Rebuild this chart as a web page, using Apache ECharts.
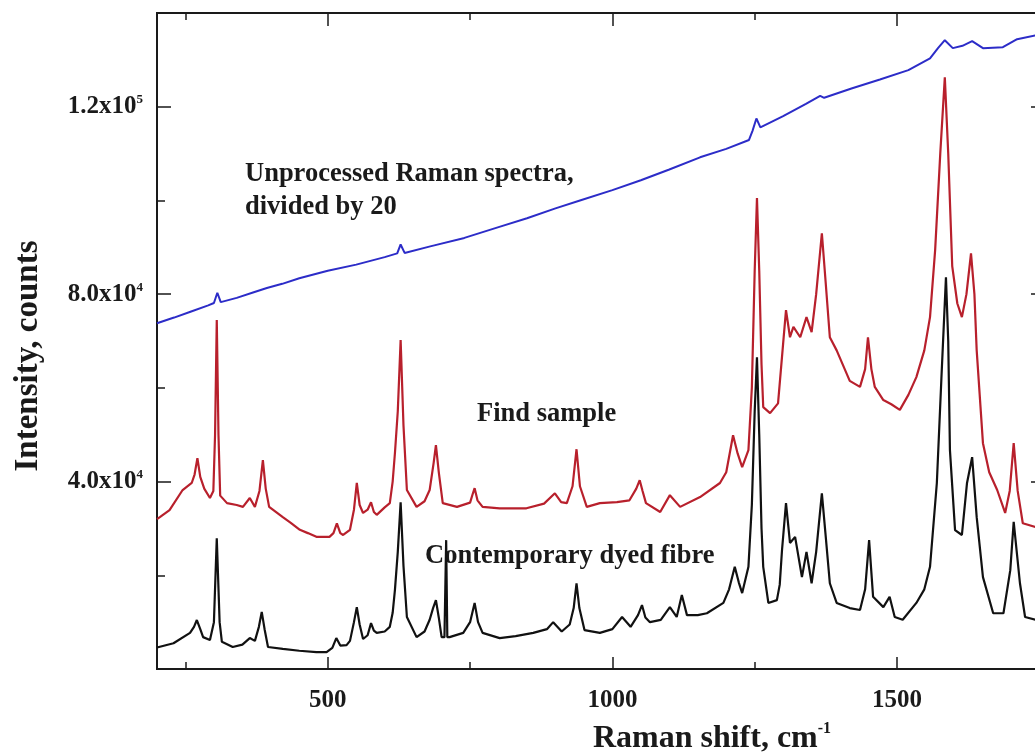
<!DOCTYPE html>
<html>
<head>
<meta charset="utf-8">
<script src="https://cdn.jsdelivr.net/npm/echarts@6/dist/echarts.min.js"></script>
<style>
  html, body { margin: 0; padding: 0; background: #fff; }
  #chart { width: 1035px; height: 753px; }
</style>
</head>
<body>
<div id="chart"></div>
<script>
// axis ranges and tick positions (Raman shift in cm-1, intensity in counts)
var xMin = 200, xMax = 1760;
var yMin = 0, yMax = 140000;
var xMajor = [500, 1000, 1500];
var xMinor = [250, 750, 1250, 1750];
var yMajor = [40000, 80000, 120000];
var yMinor = [20000, 60000, 100000];

// unprocessed spectrum, divided by 20
var rawSpectrum = [
    [200,73800],[230,75000],[260,76300],[290,77600],[300,78100],[306,80300],[312,78300],[340,79200],
    [370,80400],[393,81300],[420,82200],[450,83400],[500,85000],[550,86300],[600,87900],[622,88700],
    [628,90600],[635,88800],[680,90200],[740,92000],[800,94300],[850,96200],[900,98300],[943,100000],
    [1000,102200],[1050,104300],[1100,106600],[1154,109200],[1200,111000],[1240,112900],[1246,114800],
    [1253,117500],[1260,115600],[1300,118000],[1340,120600],[1365,122300],[1372,121900],[1420,123900],
    [1470,125800],[1520,127800],[1558,130300],[1572,132500],[1584,134200],[1598,132500],[1615,133000],
    [1632,134000],[1651,132500],[1686,132700],[1711,134400],[1743,135200],[1760,135500]
];

// find sample
var findSample = [
    [200,32000],[205,32400],[222,33900],[245,38200],[261,39700],[266,41500],[271,45000],[276,41000],
    [283,38500],[293,36500],[299,38000],[302,50000],[305,74500],[308,50000],[311,37000],[323,35400],
    [340,35000],[351,34600],[363,36500],[372,34600],[380,38000],[386,44600],[391,38500],[397,34600],
    [421,32400],[435,31200],[451,29700],[465,29000],[480,28200],[503,28200],[510,29000],[516,31100],
    [522,29000],[527,28600],[539,29700],[546,34000],[551,39700],[556,35000],[562,33300],[570,34000],
    [576,35600],[581,33500],[586,32900],[600,34500],[609,35400],[614,40000],[618,46100],[623,55000],
    [628,70200],[633,52000],[639,38200],[656,34600],[670,35800],[679,38200],[686,44000],[690,47800],
    [695,42000],[702,35400],[727,34600],[750,35500],[755,37500],[758,38600],[763,36000],[772,34600],
    [802,34300],[849,34300],[880,35300],[899,37500],[910,35600],[920,35400],[930,39000],[937,46900],
    [943,39000],[955,34600],[978,35400],[1008,35600],[1030,36000],[1042,38500],[1048,40300],[1053,38000],
    [1059,35400],[1084,33500],[1101,37100],[1119,34600],[1154,36700],[1189,39700],[1200,42000],[1212,49900],
    [1220,46000],[1228,43100],[1239,46700],[1245,60000],[1250,85000],[1254,100500],[1258,85000],[1262,65000],
    [1265,55900],[1277,54600],[1291,56700],[1300,69500],[1305,76600],[1312,70800],[1318,73000],[1330,70800],
    [1341,75100],[1350,71900],[1358,80000],[1368,93000],[1375,82000],[1382,70800],[1394,68000],[1417,61500],
    [1435,60200],[1444,64000],[1449,70800],[1455,64000],[1461,60200],[1476,57400],[1490,56500],[1505,55300],
    [1520,58500],[1534,62300],[1548,68000],[1558,75100],[1567,89400],[1576,110000],[1584,126300],[1590,110000],
    [1597,86000],[1606,78000],[1614,75100],[1622,80000],[1630,88700],[1636,80000],[1640,68000],[1651,48200],
    [1662,42000],[1676,38200],[1690,33300],[1698,38000],[1705,48200],[1712,38000],[1721,31100],[1743,30300],
    [1760,30000]
];

// contemporary dyed fibre
var dyedFibre = [
    [200,4600],[229,5500],[258,7700],[265,9000],[270,10450],[276,8500],[281,6800],[293,6200],
    [300,10000],[305,27900],[310,10000],[314,5800],[333,4700],[350,5200],[363,6600],[372,6000],
    [379,9000],[384,12200],[389,8500],[395,4700],[421,4300],[450,3900],[480,3600],[498,3600],
    [508,4500],[515,6600],[522,5000],[533,5100],[539,6000],[546,10000],[551,13200],[556,9500],
    [562,6400],[570,7200],[576,9800],[581,8200],[586,7700],[600,8000],[609,9000],[614,12000],
    [618,16900],[623,25000],[628,35600],[633,22000],[639,11100],[656,6800],[670,8000],[679,10500],
    [685,13000],[690,14700],[695,11000],[700,6800],[705,6800],[708,27500],[710,6800],[714,6800],
    [738,7700],[750,10000],[758,14100],[764,10000],[772,7700],[802,6600],[830,7000],[861,7700],
    [885,8500],[896,10000],[911,8000],[925,9500],[932,13000],[937,18300],[942,13000],[951,8300],
    [978,7700],[1000,8500],[1017,11100],[1032,9000],[1045,11500],[1052,13650],[1058,11000],[1066,10000],
    [1085,10500],[1101,13200],[1113,11100],[1122,15800],[1131,11500],[1150,11500],[1166,11900],[1195,14100],
    [1205,17000],[1215,21800],[1222,18500],[1228,16200],[1239,21800],[1245,35000],[1250,55000],[1254,66500],
    [1258,50000],[1262,30000],[1265,21800],[1274,14100],[1289,14700],[1294,18000],[1298,25400],[1305,35400],
    [1312,26900],[1321,28200],[1333,19600],[1341,25000],[1350,18300],[1358,25000],[1368,37500],[1375,28000],
    [1382,18300],[1394,14100],[1417,13000],[1435,12600],[1444,17000],[1451,27500],[1458,15400],[1476,13200],
    [1487,15400],[1496,11100],[1510,10500],[1534,14100],[1548,17000],[1558,21800],[1570,39700],[1578,62000],
    [1586,83600],[1590,70000],[1593,46700],[1602,29650],[1614,28600],[1623,39700],[1632,45200],[1640,32400],
    [1651,19600],[1669,11900],[1687,11900],[1699,21100],[1705,31400],[1716,18300],[1725,11100],[1743,10500],
    [1760,10200]
];

var serif = '"Liberation Serif", "Times New Roman", serif';
var ink = '#1a1a1a';

// one axis = one set of ticks; frame sides and minor ticks get their own axis
var _xAxis = function (pos, ticks, len, labels) {
    var axis = {
        type: 'value', position: pos, min: xMin, max: xMax,
        axisLine: { show: true, onZero: false, lineStyle: { color: ink, width: 2 } },
        splitLine: { show: false },
        axisTick: { inside: true, length: len, customValues: ticks, lineStyle: { color: ink, width: 1.5 } },
        axisLabel: { show: false }
    };
    if (labels) {
        axis.axisLabel = {
            show: true, customValues: labels, margin: 19,
            formatter: function (v) { return String(v); },
            fontFamily: serif, fontWeight: 'bold', fontSize: 25, color: ink
        };
    }
    return axis;
};

var _yAxis = function (pos, ticks, len, labels) {
    var axis = {
        type: 'value', position: pos, min: yMin, max: yMax,
        axisLine: { show: true, onZero: false, lineStyle: { color: ink, width: 2 } },
        splitLine: { show: false },
        axisTick: { inside: true, length: len, customValues: ticks, lineStyle: { color: ink, width: 1.5 } },
        axisLabel: { show: false }
    };
    if (labels) {
        axis.axisLabel = {
            show: true, customValues: labels, margin: 14,
            formatter: function (v) {
                var e = Math.floor(Math.log10(v) + 1e-9);
                var m = (v / Math.pow(10, e)).toFixed(1);
                return '{m|' + m + 'x10}{e|' + e + '}';
            },
            rich: {
                m: { fontFamily: serif, fontWeight: 'bold', fontSize: 25, color: ink },
                e: { fontFamily: serif, fontWeight: 'bold', fontSize: 13, color: ink, padding: [0, 0, 14, 0] }
            }
        };
    }
    return axis;
};

var xAxes = [
    _xAxis('bottom', xMajor, 12, xMajor),
    _xAxis('bottom', xMinor, 7),
    _xAxis('top', xMajor, 13),
    _xAxis('top', xMinor, 7)
];
xAxes[0].name = '{t|Raman shift, cm}{s|-1}';
xAxes[0].nameLocation = 'middle';
xAxes[0].nameGap = 52;
xAxes[0].nameTextStyle = {
    padding: [0, 0, 0, 222],
    rich: {
        t: { fontFamily: serif, fontWeight: 'bold', fontSize: 32, color: ink },
        s: { fontFamily: serif, fontWeight: 'bold', fontSize: 16, color: ink, padding: [0, 0, 19, 0] }
    }
};

var yAxes = [
    _yAxis('left', yMajor, 14, yMajor),
    _yAxis('left', yMinor, 8),
    _yAxis('right', yMajor, 14),
    _yAxis('right', yMinor, 8)
];
yAxes[0].name = 'Intensity, counts';
yAxes[0].nameLocation = 'middle';
yAxes[0].nameGap = 112;
yAxes[0].nameTextStyle = {
    fontFamily: serif, fontWeight: 'bold', fontSize: 33, color: ink,
    padding: [0, 30, 0, 0]
};

var _line = function (name, data, color, width) {
    return {
        name: name, type: 'line', data: data,
        xAxisIndex: 0, yAxisIndex: 0,
        showSymbol: false, symbol: 'none', smooth: false,
        lineStyle: { color: color, width: width },
        silent: true, animation: false
    };
};

var option = {
    backgroundColor: '#fff',
    animation: false,
    grid: { left: 157, top: 13, right: -10, bottom: 84, containLabel: false, outerBoundsMode: 'none' },
    xAxis: xAxes,
    yAxis: yAxes,
    series: [
        _line('Unprocessed Raman spectra, divided by 20', rawSpectrum, '#2c2cc8', 2),
        _line('Find sample', findSample, '#b8202c', 2.2),
        _line('Contemporary dyed fibre', dyedFibre, '#111111', 2.2)
    ],
    graphic: [
        { type: 'text', left: 245, top: 158, z: 1,
          style: { text: 'Unprocessed Raman spectra,\ndivided by 20', fill: ink, lineHeight: 33,
                   font: 'bold 26.5px ' + serif } },
        { type: 'text', left: 477, top: 398, z: 1,
          style: { text: 'Find sample', fill: ink, lineHeight: 33, font: 'bold 26.5px ' + serif } },
        { type: 'text', left: 425, top: 540, z: 1,
          style: { text: 'Contemporary dyed fibre', fill: ink, lineHeight: 33, font: 'bold 26.5px ' + serif } }
    ]
};

var myChart = echarts.init(document.getElementById('chart'), null, { renderer: 'canvas' });
myChart.setOption(option);
</script>
</body>
</html>
